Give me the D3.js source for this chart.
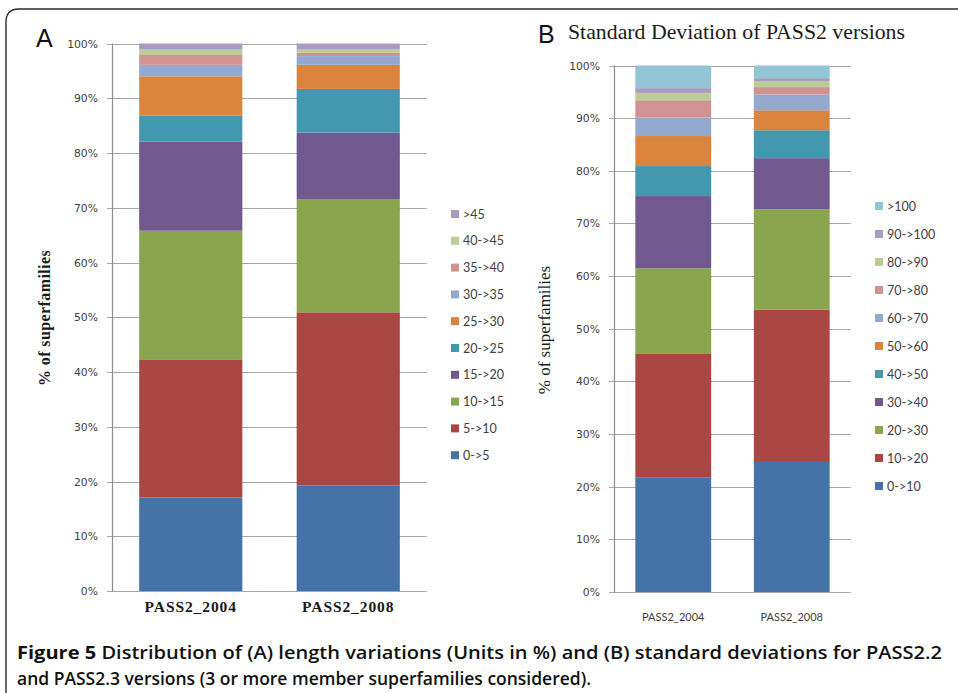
<!DOCTYPE html>
<html>
<head>
<meta charset="utf-8">
<script src="https://cdn.jsdelivr.net/npm/d3@7"></script>
<style>
  html, body { margin: 0; padding: 0; background: #fff; }
  svg { display: block; }
</style>
</head>
<body>
<svg id="fig" width="958" height="693"></svg>
<script>
// ---- Panel A: length variation bins (% of superfamilies) ----
const versions = ["PASS2_2004", "PASS2_2008"];
const binsA = ["0->5", "5->10", "10->15", "15->20", "20->25", "25->30", "30->35", "35->40", "40->45", ">45"];
const lenPass2004 = [17.1, 25.1, 23.6, 16.3, 4.7, 7.2, 2.1, 1.8, 1.0, 1.1];
const lenPass2008 = [19.3, 31.6, 20.7, 12.1, 8.0, 4.4, 1.6, 0.6, 0.7, 1.0];

// ---- Panel B: standard deviation bins (% of superfamilies) ----
const binsB = ["0->10", "10->20", "20->30", "30->40", "40->50", "50->60", "60->70", "70->80", "80->90", "90->100", ">100"];
const sdPass2004 = [21.8, 23.4, 16.3, 13.7, 5.7, 5.7, 3.5, 3.3, 1.4, 0.9, 4.3];
const sdPass2008 = [24.7, 28.9, 19.1, 9.7, 5.3, 3.8, 3.0, 1.4, 1.1, 0.6, 2.4];

const percentTicks = [0, 10, 20, 30, 40, 50, 60, 70, 80, 90, 100];

const palette = ["#4572a7", "#aa4643", "#89a54e", "#71588f", "#4198af",
                 "#db843d", "#93a9cf", "#d19392", "#b9cd96", "#a99bbd", "#92c5d6"];

const svg = d3.select("#fig");
svg.append("rect").attr("width", 958).attr("height", 693).attr("fill", "#fff");

// rounded figure frame, open to the right and bottom
svg.append("path")
  .attr("d", "M6,700 L6,22 Q6,9 19,9 L965,9")
  .attr("fill", "none").attr("stroke", "#2b2b2b").attr("stroke-width", 1.4);

function drawPanel(opt) {
  const { bins, series, left, right, top, bottom, padInner } = opt;
  const rows = versions.map((v, i) => {
    const r = { version: v };
    bins.forEach((b, j) => { r[b] = series[i][j]; });
    return r;
  });
  const stacked = d3.stack().keys(bins)(rows);

  const x = d3.scaleBand().domain(versions).range([left, right])
    .paddingInner(padInner).paddingOuter(padInner / 2);
  const y = d3.scaleLinear().domain([0, 100]).range([bottom, top]);

  const g = svg.append("g");

  // horizontal gridlines
  g.append("g").selectAll("line").data(percentTicks).join("line")
    .attr("x1", left - 5).attr("x2", right)
    .attr("y1", d => Math.round(y(d)) + 0.5).attr("y2", d => Math.round(y(d)) + 0.5)
    .attr("stroke", "#a6a6a6").attr("stroke-width", 1.2);

  // value axis line
  g.append("line")
    .attr("x1", left + 0.5).attr("x2", left + 0.5)
    .attr("y1", y(100)).attr("y2", y(0) + 0.5)
    .attr("stroke", "#8c8c8c").attr("stroke-width", 1.2);

  // tick labels
  g.append("g").selectAll("text").data(percentTicks).join("text")
    .attr("x", left - 14).attr("y", d => y(d) + 4)
    .attr("text-anchor", "end")
    .attr("font-family", "'DejaVu Sans', Verdana, sans-serif")
    .attr("font-size", 10.8).attr("fill", "#404040")
    .text(d => d + "%");

  // stacked bars
  g.append("g").selectAll("g").data(stacked).join("g")
    .attr("fill", (d, i) => palette[i])
    .selectAll("rect").data(d => d).join("rect")
    .attr("x", d => x(d.data.version))
    .attr("width", x.bandwidth())
    .attr("y", d => y(d[1]))
    .attr("height", d => y(d[0]) - y(d[1]));

  // legend, top entry is the last series
  const leg = g.append("g");
  const items = bins.map((b, i) => ({ b, i })).reverse();
  items.forEach((it, k) => {
    const cy = opt.legTop + k * opt.legStep;
    leg.append("rect")
      .attr("x", opt.legX).attr("y", cy - 4)
      .attr("width", 8).attr("height", 8)
      .attr("fill", palette[it.i]);
    leg.append("text")
      .attr("x", opt.legX + 12).attr("y", cy + 4.5)
      .attr("font-family", "Lato, 'Open Sans', sans-serif")
      .attr("font-size", opt.legFont).attr("fill", "#404040")
      .text(it.b);
  });

  return { x, y, g };
}

// Panel A
const A = drawPanel({
  bins: binsA, series: [lenPass2004, lenPass2008],
  left: 112, right: 427, top: 43.5, bottom: 591, padInner: 0.345,
  legX: 451, legTop: 214, legStep: 26.8, legFont: 12.5
});
A.g.append("g").selectAll("text").data(versions).join("text")
  .attr("x", d => A.x(d) + A.x.bandwidth() / 2).attr("y", 612)
  .attr("text-anchor", "middle")
  .attr("font-family", "'Liberation Serif', 'Times New Roman', serif")
  .attr("font-weight", "bold").attr("font-size", 15.5)
  .attr("letter-spacing", 0.9)
  .attr("fill", "#1a1a1a")
  .text(d => d);
A.g.append("text")
  .attr("transform", "translate(50,318) rotate(-90)")
  .attr("text-anchor", "middle")
  .attr("font-family", "'Liberation Serif', 'Times New Roman', serif")
  .attr("font-weight", "bold").attr("font-size", 16)
  .attr("letter-spacing", 0.4)
  .attr("fill", "#1a1a1a")
  .text("% of superfamilies");
svg.append("text")
  .attr("x", 36).attr("y", 47)
  .attr("font-family", "'Liberation Sans', Arial, sans-serif")
  .attr("font-size", 25).attr("fill", "#111")
  .text("A");

// Panel B
const B = drawPanel({
  bins: binsB, series: [sdPass2004, sdPass2008],
  left: 614, right: 851, top: 65.5, bottom: 592, padInner: 0.36,
  legX: 875, legTop: 206, legStep: 28, legFont: 12.5
});
B.g.append("g").selectAll("text").data(versions).join("text")
  .attr("x", d => B.x(d) + B.x.bandwidth() / 2).attr("y", 621)
  .attr("text-anchor", "middle")
  .attr("font-family", "Lato, 'Open Sans', sans-serif")
  .attr("font-size", 11).attr("fill", "#404040")
  .text(d => d);
B.g.append("text")
  .attr("transform", "translate(550,330) rotate(-90)")
  .attr("text-anchor", "middle")
  .attr("font-family", "'Liberation Serif', 'Times New Roman', serif")
  .attr("font-size", 17).attr("fill", "#1a1a1a")
  .text("% of superfamilies");
svg.append("text")
  .attr("x", 538).attr("y", 43)
  .attr("font-family", "'Liberation Sans', Arial, sans-serif")
  .attr("font-size", 25).attr("fill", "#111")
  .text("B");
svg.append("text")
  .attr("x", 568).attr("y", 39)
  .attr("font-family", "'Liberation Serif', 'Times New Roman', serif")
  .attr("font-size", 22).attr("fill", "#1a1a1a")
  .attr("textLength", 337).attr("lengthAdjust", "spacingAndGlyphs")
  .text("Standard Deviation of PASS2 versions");

// Caption
const capFont = "'Open Sans', 'Liberation Sans', sans-serif";
const cap1 = svg.append("text")
  .attr("x", 17).attr("y", 659)
  .attr("font-family", capFont).attr("font-weight", 600)
  .attr("font-size", 17.5).attr("fill", "#111")
  .attr("textLength", 925).attr("lengthAdjust", "spacingAndGlyphs");
cap1.append("tspan").attr("font-weight", 700).text("Figure 5");
cap1.append("tspan").text(" Distribution of (A) length variations (Units in %) and (B) standard deviations for PASS2.2");
svg.append("text")
  .attr("x", 17).attr("y", 685)
  .attr("font-family", capFont).attr("font-weight", 600)
  .attr("font-size", 17.5).attr("fill", "#111")
  .attr("textLength", 574).attr("lengthAdjust", "spacingAndGlyphs")
  .text("and PASS2.3 versions (3 or more member superfamilies considered).");
</script>
</body>
</html>
